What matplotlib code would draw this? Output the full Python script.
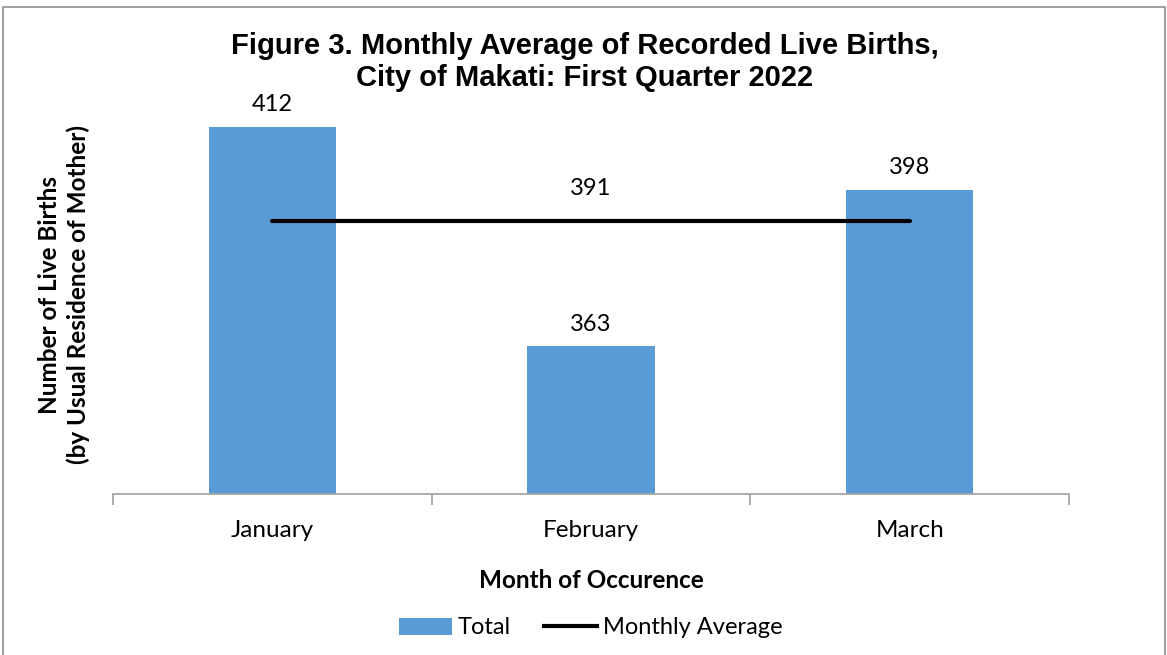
import matplotlib
matplotlib.use("Agg")
import matplotlib.pyplot as plt
from matplotlib.patches import Rectangle
from matplotlib.lines import Line2D
from matplotlib.patches import Patch

months = ["January", "February", "March"]
totals = [412, 363, 398]
monthly_average = [391, 391, 391]

bar_color = "#5B9BD5"
W, H = 1167, 655
fig = plt.figure(figsize=(W / 100, H / 100), dpi=100)
plt.rcParams['font.family'] = ['Lato', 'DejaVu Sans']

# outer frame
fig.patches.append(Rectangle((3 / W, -0.01), (1165 - 3) / W, 1 - 7 / H + 0.01,
                             transform=fig.transFigure, fill=False,
                             edgecolor="#8c8c8c", linewidth=1.2))

ax = fig.add_axes([113 / W, (655 - 494) / H, (1069 - 113) / W, 403 / H])
x = list(range(len(months)))
ax.bar(x, totals, width=0.4, color=bar_color, zorder=2)
ax.plot(x, monthly_average, color="black", linewidth=3, zorder=3,
        solid_capstyle="round")

ax.set_xlim(-0.5, 2.5)
ax.set_ylim(330, 420)
ax.set_yticks([])
for s in ["top", "right", "left"]:
    ax.spines[s].set_visible(False)
ax.spines["bottom"].set_color("#a6a6a6")
ax.spines["bottom"].set_linewidth(1.3)
ax.set_xticks(x)
ax.set_xticklabels(months, fontsize=17.5)
ax.tick_params(axis="x", which="major", length=0, pad=19)
ax.set_xticks([-0.5, 0.5, 1.5, 2.5], minor=True)
ax.tick_params(axis="x", which="minor", length=8, width=1.3, color="#a6a6a6")

for xi, v in zip(x, totals):
    ax.annotate(f"{v}", (xi, v), xytext=(0, 16), textcoords="offset points",
                ha="center", va="center", fontsize=17)
ax.annotate(f"{monthly_average[1]}", (x[1], monthly_average[1]), xytext=(0, 23),
            textcoords="offset points", ha="center", va="center", fontsize=17)

ax.set_xlabel("Month of Occurence", fontsize=17.5, fontweight="bold", labelpad=20)
fig.text(64 / W, 1 - 295 / H, "Number of Live Births\n(by Usual Residence of Mother)",
         rotation=90, ha="center", va="center", fontsize=17.5, fontweight="bold",
         linespacing=1.3)

fig.text(585 / W, 1 - 62 / H,
         "Figure 3. Monthly Average of Recorded Live Births,\nCity of Makati: First Quarter 2022",
         ha="center", va="center", fontsize=21, fontweight="bold",
         family=["Liberation Sans", "DejaVu Sans"], linespacing=1.15)

handles = [Patch(facecolor=bar_color, edgecolor="none"),
           Line2D([0], [0], color="black", linewidth=3)]
fig.legend(handles, ["Total", "Monthly Average"], loc="center",
           bbox_to_anchor=(591 / W, 1 - 628 / H), ncol=2, frameon=False,
           fontsize=17, handlelength=2.25, handleheight=0.75, handletextpad=0.25,
           columnspacing=1.4)

fig.savefig("out.png", dpi=100)
